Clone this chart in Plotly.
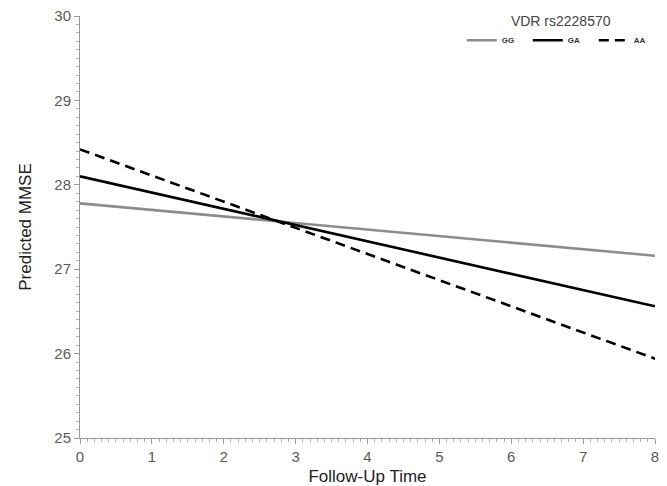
import plotly.graph_objects as go

follow_up_time = [0, 8]
gg_values = [27.78, 27.16]
ga_values = [28.10, 26.56]
aa_values = [28.42, 25.94]
series_names = ["GG", "GA", "AA"]
legend_title = "VDR rs2228570"
x_ticks = [0, 1, 2, 3, 4, 5, 6, 7, 8]
y_ticks = [25, 26, 27, 28, 29, 30]

fig = go.Figure()
styles = [
    dict(color="#8c8c8c", width=2.6, dash="solid"),
    dict(color="#000000", width=2.6, dash="solid"),
    dict(color="#000000", width=2.6, dash="10px,6px"),
]
for name, vals, st in zip(series_names, [gg_values, ga_values, aa_values], styles):
    fig.add_trace(go.Scatter(x=follow_up_time, y=vals, mode="lines", name=name,
                             line=st, showlegend=True))

axis_common = dict(
    showgrid=False, zeroline=False, showline=True, linecolor="#9a9a9a", linewidth=1,
    ticks="outside", ticklen=5, tickcolor="#9a9a9a", tickwidth=1,
    tickfont=dict(family="Liberation Sans Narrow, Liberation Sans, Arial", size=15, color="#5a5a5a"),
    minor=dict(ticks="outside", ticklen=3, tickcolor="#b0b0b0", dtick=0.1, tickwidth=1),
)

fig.update_layout(
    width=667, height=486,
    paper_bgcolor="white", plot_bgcolor="white",
    margin=dict(l=80, r=12, t=16, b=48, autoexpand=False),
    font=dict(family="Liberation Sans, Arial", color="#222222"),
    xaxis=dict(range=[0, 8], tickvals=x_ticks, automargin=False,
               title=dict(text="Follow-Up Time", font=dict(size=17, color="#222222"), standoff=7),
               **axis_common),
    yaxis=dict(range=[25, 30], tickvals=y_ticks, automargin=False,
               title=dict(text="Predicted MMSE", font=dict(size=17, color="#222222"), standoff=18),
               **axis_common),
    legend=dict(orientation="h", x=0.664, xanchor="left", y=1.02, yanchor="top",
                title=dict(text=legend_title, side="top center",
                           font=dict(size=14, color="#444444", weight="normal")),
                font=dict(size=8, color="#333333", weight="bold"),
                bgcolor="rgba(0,0,0,0)", itemwidth=30, entrywidth=21,
                entrywidthmode="pixels", tracegroupgap=0),
)

fig.write_html("out.html", config={"displayModeBar": False},
               post_script="document.body.style.margin='0';")
